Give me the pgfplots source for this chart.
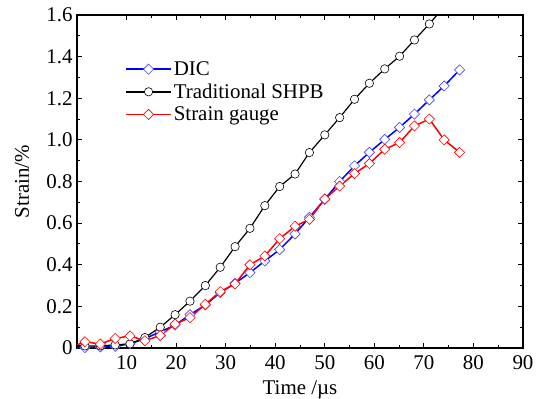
\documentclass[border=0pt]{standalone}
\usepackage{fontspec}
\setmainfont{Liberation Serif}
\usepackage{pgfplots}
\pgfplotsset{compat=1.18}
\definecolor{dicblue}{RGB}{0,0,255}
\definecolor{dicmark}{RGB}{70,70,255}
\definecolor{sgred}{RGB}{255,0,0}
\begin{document}
\begin{tikzpicture}
\useasboundingbox (-77bp,-51bp) rectangle (461bp,348bp);
\begin{axis}[
  scale only axis, width=446bp, height=333bp,
  xmin=0, xmax=90, ymin=0, ymax=1.6,
  xtick={10,20,30,40,50,60,70,80,90},
  ytick={0,0.2,0.4,0.6,0.8,1.0,1.2,1.4,1.6},
  yticklabels={0,0.2,0.4,0.6,0.8,1.0,1.2,1.4,1.6},
  minor x tick num=1, minor y tick num=1,
  tick align=inside, xtick pos=both, ytick pos=both,
  major tick length=5bp, minor tick length=3bp,
  axis line style={line width=1.1bp},
  every tick/.style={black, line width=0.9bp},
  font=\fontsize{21}{24}\selectfont,
  /pgf/number format/assume math mode=true,
  xlabel={Time /µs}, ylabel={Strain/\%},
  xlabel style={at={(axis description cs:0.5,-0.127)}, anchor=center},
  ylabel style={at={(axis description cs:-0.123,0.5)}, anchor=center},
  xticklabel style={yshift=-4bp},
  yticklabel style={xshift=-1bp},
  legend style={draw=none, fill=none, at={(axis description cs:0.101,0.873)}, anchor=north west,
    row sep=3bp, font=\fontsize{21}{24}\selectfont},
  legend cell align=left,
  legend image code/.code={\draw[mark=none, line width=1.6bp] (0bp,0bp) -- (45bp,0bp);
     \draw[line width=0.6bp] plot coordinates {(22.5bp,0bp)};},
]
\addplot[dicblue, line width=1.5bp, mark=square*, mark size=3.6bp,
  mark options={rotate=45, fill=white, draw=dicmark, line width=0.6bp}] coordinates {
(1.6,0.002) (4.7,0.005) (7.7,0.008) (10.7,0.02) (13.7,0.045) (16.8,0.078) (19.8,0.11)
(22.8,0.16) (25.9,0.207) (28.9,0.266) (31.9,0.311) (34.9,0.362) (37.9,0.418) (40.9,0.473)
(44.0,0.548) (46.9,0.628) (50.0,0.714) (53.0,0.80) (56.0,0.875) (59.0,0.94) (62.1,1.002)
(65.1,1.06) (68.1,1.124) (71.1,1.192) (74.1,1.259) (77.2,1.336)
};
\addlegendentry{DIC}
\addplot[black, line width=1.2bp, mark=*, mark size=4.2bp,
  mark options={fill=white, draw=black, line width=0.6bp}] coordinates {
(1.6,0.01) (4.7,0.01) (7.7,0.015) (10.7,0.02) (13.7,0.05) (16.8,0.10) (19.8,0.16)
(22.8,0.225) (25.9,0.30) (28.9,0.388) (31.9,0.487) (34.9,0.575) (37.9,0.684) (40.9,0.776)
(44.0,0.836) (46.9,0.939) (50.0,1.024) (53.0,1.107) (56.0,1.195) (59.0,1.272) (62.1,1.341)
(65.1,1.402) (68.1,1.48) (71.1,1.557) (74.1,1.64)
};
\addlegendentry{Traditional SHPB}
\addplot[sgred, line width=1.5bp, mark=square*, mark size=3.6bp,
  mark options={rotate=45, fill=white, draw=sgred, line width=0.6bp}] coordinates {
(1.6,0.03) (4.7,0.019) (7.7,0.046) (10.7,0.058) (13.7,0.035) (16.8,0.06) (19.8,0.115)
(22.8,0.146) (25.9,0.21) (28.9,0.271) (31.9,0.308) (34.9,0.40) (37.9,0.442) (40.9,0.525)
(44.0,0.585) (46.9,0.618) (50.0,0.716) (53.0,0.778) (56.0,0.838) (59.0,0.886) (62.1,0.955)
(65.1,0.987) (68.1,1.067) (71.1,1.10) (74.1,1.0) (77.2,0.94)
};
\addlegendentry{Strain gauge}
\addplot[dicblue, line width=1.5bp, forget plot] coordinates {(0,0.0) (1.6,0.002)};
\addplot[black, line width=1.2bp, forget plot] coordinates {(0,0.01) (1.6,0.01)};
\addplot[sgred, line width=1.5bp, forget plot] coordinates {(0,0.015) (1.6,0.03)};
\end{axis}
\end{tikzpicture}
\end{document}
